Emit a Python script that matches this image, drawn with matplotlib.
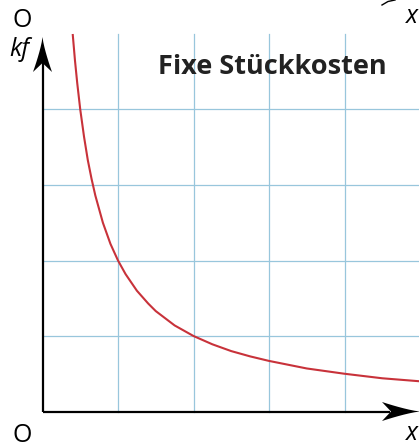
import numpy as np
import matplotlib.pyplot as plt
from matplotlib.patches import Polygon

# Werte (Gittereinheiten)
menge = [0.40, 0.43, 0.46, 0.50, 0.55, 0.60, 0.65, 0.70, 0.80, 0.90, 1.00, 1.10,
         1.25, 1.40, 1.50, 1.75, 2.00, 2.25, 2.50, 2.75, 3.00, 3.50, 4.00, 4.50, 5.00]
kf = [5.00, 4.65, 4.35, 4.00, 3.64, 3.33, 3.08, 2.86, 2.50, 2.22, 2.00, 1.82,
      1.60, 1.43, 1.33, 1.14, 1.00, 0.89, 0.80, 0.73, 0.67, 0.57, 0.50, 0.44, 0.40]
gitter_x = [1, 2, 3, 4]
gitter_y = [1, 2, 3, 4]
titel = 'Fixe Stückkosten'

W, H = 419, 447
x0, y0, u = 42.5, 411.5, 75.5  # Ursprung in Pixel, Pixel pro Einheit


def px(x, y):
    return ((x - x0) / u, (y0 - y) / u)


fig = plt.figure(figsize=(W / 100, H / 100), dpi=100)
ax = fig.add_axes([0, 0, 1, 1])
ax.set_xlim(-x0 / u, (W - x0) / u)
ax.set_ylim(-(H - y0) / u, y0 / u)
ax.axis('off')

gc = '#98c6dc'
for g in gitter_x:
    ax.plot([g, g], [0, 5], color=gc, lw=0.9, zorder=1)
for g in gitter_y:
    ax.plot([0, 10], [g, g], color=gc, lw=0.9, zorder=1)

ax.plot(menge, kf, color='#c8323a', lw=1.5, zorder=3, solid_capstyle='butt')

# Achsen
ax.plot([0, 0], [0, px(0, 60)[1]], color='black', lw=1.6, zorder=4, solid_capstyle='butt')
ax.plot([0, px(390, 0)[0]], [0, 0], color='black', lw=1.6, zorder=4, solid_capstyle='butt')

# Pfeilspitzen
def spitze(tip, back, half, notch):
    tx, ty = tip
    bx, by = back
    d = np.array([tx - bx, ty - by], float)
    L = np.hypot(*d)
    d /= L
    n = np.array([-d[1], d[0]])
    pts = [np.array(tip, float)]
    for t in np.linspace(0, 1, 8)[1:]:
        p = np.array(tip) - d * L * t + n * half * t ** 1.3
        pts.append(p)
    pts.append(np.array(tip) - d * (L - notch))
    for t in np.linspace(1, 0, 8)[:-1]:
        p = np.array(tip) - d * L * t - n * half * t ** 1.3
        pts.append(p)
    pts = [px(*p) for p in pts]
    ax.add_patch(Polygon(pts, closed=True, color='black', lw=0, zorder=5))


spitze((42.5, 37), (42.5, 72), 9.5, 9)
spitze((420, 411.5), (382, 411.5), 9.5, 9)
# Rest einer Pfeilspitze oben rechts
ax.plot(*zip(px(382, 5), px(388, 1.5), px(395, 0)), color='black', lw=1.0, zorder=5)

fs = 18
ax.text(*px(22, 21), 'O', fontsize=fs, family='Open Sans', ha='center', va='center')
ax.text(*px(19, 50), 'kf', fontsize=fs, family='Open Sans', style='italic', ha='center', va='center')
ax.text(*px(22, 435), 'O', fontsize=fs, family='Open Sans', ha='center', va='center')
ax.text(*px(412, 434), 'x', fontsize=fs, family='Open Sans', style='italic', ha='center', va='center')
ax.text(*px(412, 17), 'x', fontsize=fs, family='Open Sans', style='italic', ha='center', va='center')
ax.text(*px(272, 67), titel, fontsize=19.5, family='Open Sans', weight='bold',
        color='#222222', ha='center', va='center')

fig.savefig('out.png', dpi=100)
